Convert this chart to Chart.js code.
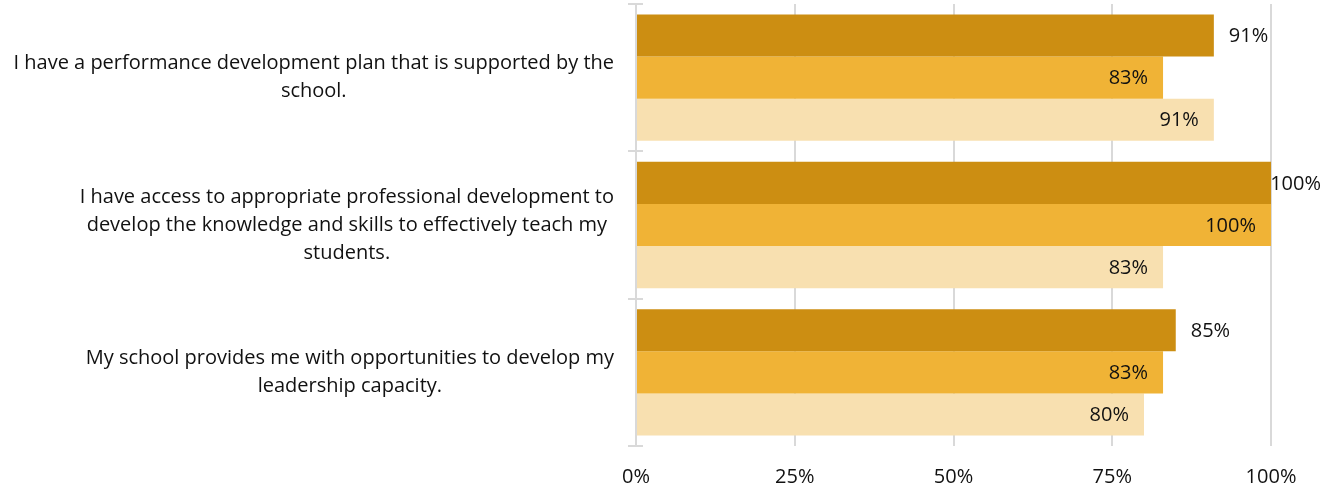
<!DOCTYPE html>
<html>
<head>
<meta charset="utf-8">
<script src="https://cdn.jsdelivr.net/npm/chart.js@4"></script>
<style>
  html, body { margin: 0; padding: 0; background: #fff; }
  #wrap { width: 1335px; height: 492px; position: relative; }
</style>
</head>
<body>
<div id="wrap"><canvas id="pdChart"></canvas></div>
<script>
// survey statements, one array of lines per statement
const categories = [
    ['I have a performance development plan that is supported by the', 'school.'],
    ['I have access to appropriate professional development to', 'develop the knowledge and skills to effectively teach my', 'students.'],
    ['My school provides me with opportunities to develop my', 'leadership capacity.']
];
const seriesNames = ['2021', '2022', '2023'];
const darkValues = [91, 100, 85];
const midValues = [83, 100, 83];
const lightValues = [91, 83, 80];
const xTicks = [0, 25, 50, 75, 100];

const FONT = '"Open Sans", "Noto Sans", sans-serif';
const FONT_SIZE = 20;
const TEXT = '#111111';
const GRID = '#d9d9d9';

// value labels: first series outside the bar end, the others inside it
const valueLabels = {
    id: 'valueLabels',
    afterDatasetsDraw(chart) {
        const ctx = chart.ctx;
        ctx.save();
        ctx.font = FONT_SIZE + 'px ' + FONT;
        ctx.fillStyle = TEXT;
        ctx.textBaseline = 'middle';
        chart.data.datasets.forEach((ds, di) => {
            const meta = chart.getDatasetMeta(di);
            meta.data.forEach((bar, i) => {
                const text = ds.data[i] + '%';
                const w = ctx.measureText(text).width;
                if (di === 0) {
                    ctx.textAlign = 'left';
                    const x = Math.min(bar.x + 15, chart.width - w - 14);
                    ctx.fillText(text, x, bar.y + 1);
                } else {
                    ctx.textAlign = 'right';
                    ctx.fillText(text, bar.x - 15, bar.y + 1);
                }
            });
        });
        ctx.restore();
    }
};

// category labels: block right-aligned to the axis, lines centred within it
const categoryLabels = {
    id: 'categoryLabels',
    afterDraw(chart) {
        const ctx = chart.ctx;
        const y = chart.scales.y;
        const area = chart.chartArea;
        ctx.save();
        ctx.font = FONT_SIZE + 'px ' + FONT;
        ctx.fillStyle = TEXT;
        ctx.textAlign = 'center';
        ctx.textBaseline = 'middle';
        const lineH = 28;
        categories.forEach((lines, i) => {
            const maxW = Math.max(...lines.map(l => ctx.measureText(l).width));
            const cx = area.left - 22 - maxW / 2;
            const cy = y.getPixelForValue(i);
            const top = cy - (lines.length - 1) * lineH / 2;
            lines.forEach((l, k) => ctx.fillText(l, cx, top + k * lineH));
        });

        // small tick marks at category boundaries
        ctx.strokeStyle = GRID;
        ctx.lineWidth = 2;
        const step = (area.bottom - area.top) / categories.length;
        for (let k = 0; k <= categories.length; k++) {
            const ty = Math.round(area.top + k * step);
            ctx.beginPath();
            ctx.moveTo(area.left - 8, ty);
            ctx.lineTo(area.left + 7, ty);
            ctx.stroke();
        }
        ctx.restore();
    }
};

const ctx = document.getElementById('pdChart').getContext('2d');
new Chart(ctx, {
    type: 'bar',
    data: {
        labels: categories,
        datasets: [
            { label: seriesNames[0], data: darkValues, backgroundColor: '#cc8e12' },
            { label: seriesNames[1], data: midValues, backgroundColor: '#f0b336' },
            { label: seriesNames[2], data: lightValues, backgroundColor: '#f8e0b0' }
        ]
    },
    options: {
        indexAxis: 'y',
        responsive: true,
        maintainAspectRatio: false,
        animation: false,
        categoryPercentage: 0.857,
        barPercentage: 1.0,
        layout: { padding: { top: 4, right: 64, bottom: 0, left: 0 } },
        plugins: {
            legend: { display: false },
            tooltip: { enabled: false }
        },
        scales: {
            x: {
                min: 0,
                max: 100,
                afterBuildTicks: scale => { scale.ticks = xTicks.map(v => ({ value: v })); },
                ticks: {
                    callback: v => v + '%',
                    font: { family: FONT, size: FONT_SIZE },
                    color: TEXT,
                    padding: 19,
                    maxRotation: 0
                },
                grid: { color: GRID, lineWidth: 2, drawTicks: false },
                border: { display: false },
                afterFit: scale => { scale.height = 46; }
            },
            y: {
                ticks: { display: false },
                grid: { display: false },
                border: { color: GRID, width: 2 },
                afterFit: scale => { scale.width = 636; }
            }
        }
    },
    plugins: [valueLabels, categoryLabels]
});
</script>
</body>
</html>
